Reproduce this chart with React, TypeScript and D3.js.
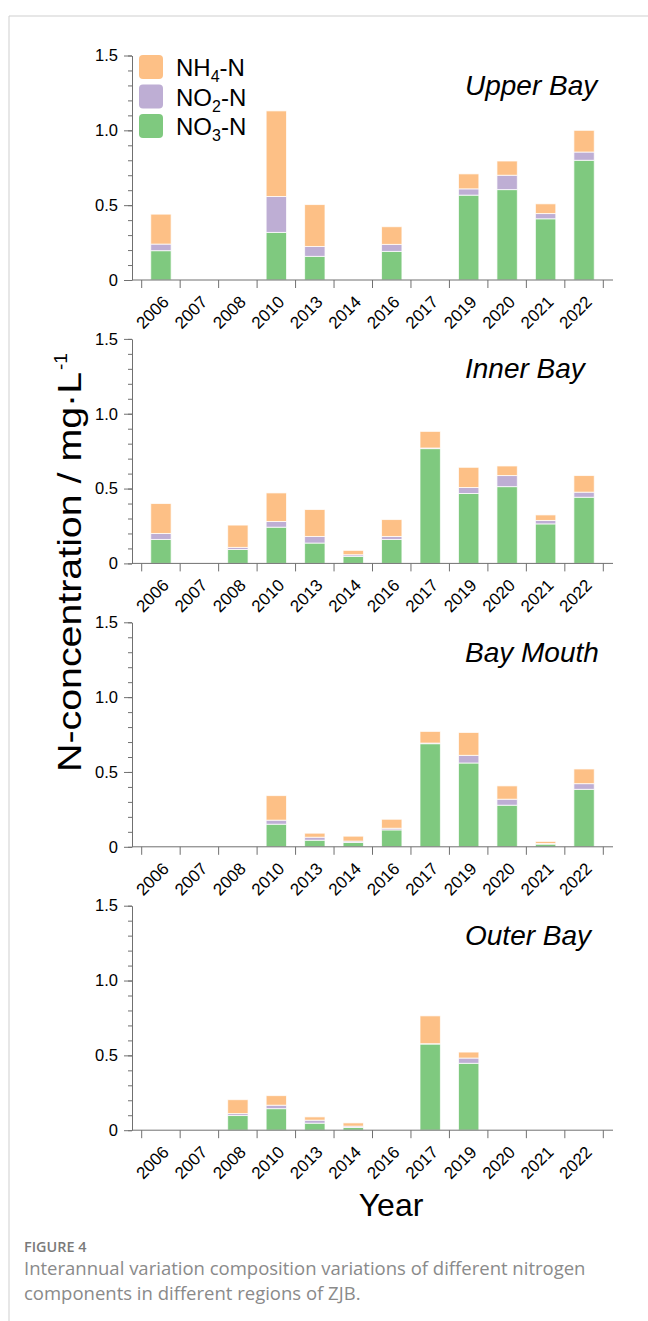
import React, { useRef, useEffect } from 'react';
import * as d3 from 'd3';

// years on the x axis (same for every panel)
const YEARS = ['2006', '2007', '2008', '2010', '2013', '2014', '2016', '2017', '2019', '2020', '2021', '2022'];
const REGIONS = ['Upper Bay', 'Inner Bay', 'Bay Mouth', 'Outer Bay'];
const Y_TICKS = [0, 0.5, 1, 1.5];

// values in mg/L, one entry per year
const UPPER_NO3 = [0.196, 0, 0, 0.318, 0.158, 0, 0.191, 0, 0.567, 0.604, 0.409, 0.8];
const UPPER_NO2 = [0.044, 0, 0, 0.24, 0.066, 0, 0.047, 0, 0.042, 0.096, 0.035, 0.055];
const UPPER_NH4 = [0.2, 0, 0, 0.572, 0.28, 0, 0.118, 0, 0.1, 0.095, 0.065, 0.145];

const INNER_NO3 = [0.16, 0, 0.093, 0.242, 0.136, 0.047, 0.16, 0.767, 0.467, 0.513, 0.264, 0.442];
const INNER_NO2 = [0.04, 0, 0.014, 0.038, 0.044, 0.011, 0.02, 0.004, 0.04, 0.074, 0.023, 0.034];
const INNER_NH4 = [0.2, 0, 0.149, 0.191, 0.18, 0.029, 0.113, 0.111, 0.135, 0.064, 0.037, 0.111];

const MOUTH_NO3 = [0, 0, 0, 0.151, 0.044, 0.029, 0.113, 0.689, 0.56, 0.278, 0.018, 0.384];
const MOUTH_NO2 = [0, 0, 0, 0.027, 0.02, 0.009, 0.011, 0.004, 0.051, 0.04, 0.004, 0.038];
const MOUTH_NH4 = [0, 0, 0, 0.164, 0.027, 0.033, 0.06, 0.078, 0.153, 0.089, 0.014, 0.098];

const OUTER_NO3 = [0, 0, 0.098, 0.144, 0.047, 0.018, 0, 0.576, 0.447, 0, 0, 0];
const OUTER_NO2 = [0, 0, 0.013, 0.023, 0.02, 0.009, 0, 0.002, 0.035, 0, 0, 0];
const OUTER_NH4 = [0, 0, 0.093, 0.064, 0.022, 0.022, 0, 0.186, 0.04, 0, 0, 0];

const SERIES = [
  [UPPER_NO3, UPPER_NO2, UPPER_NH4],
  [INNER_NO3, INNER_NO2, INNER_NH4],
  [MOUTH_NO3, MOUTH_NO2, MOUTH_NH4],
  [OUTER_NO3, OUTER_NO2, OUTER_NH4],
];

const KEYS = ['NO3', 'NO2', 'NH4'];
const COLORS = { NH4: '#fdc086', NO2: '#beaed4', NO3: '#7fc97f' };
const FONT = '"Liberation Sans", Arial, Helvetica, sans-serif';

const W = 648;
const H = 1321;

const App = () => {
  const svgRef = useRef(null);

  useEffect(() => {
    const svg = d3.select(svgRef.current);
    svg.selectAll('*').remove();

    const axisLeft = 132;
    const axisRight = 613;
    const firstTop = 55.5;
    const panelStep = 283.4;
    const plotH = 224.5;
    const axisColor = '#707070';

    // frame
    svg.append('line').attr('x1', 9).attr('x2', W).attr('y1', 16).attr('y2', 16)
      .attr('stroke', '#cfcfcf').attr('stroke-width', 1);
    svg.append('line').attr('x1', 9).attr('x2', 9).attr('y1', 16).attr('y2', H)
      .attr('stroke', '#cfcfcf').attr('stroke-width', 1);

    const x = d3.scaleBand()
      .domain(YEARS)
      .range([141.7, 603.3])
      .paddingInner(0.47)
      .paddingOuter(0.235);

    const stack = d3.stack().keys(KEYS);

    REGIONS.forEach((region, p) => {
      const top = firstTop + p * panelStep;
      const y = d3.scaleLinear().domain([0, 1.5]).range([top + plotH, top]);
      const y0 = y(0);
      const g = svg.append('g');

      const rows = YEARS.map((year, i) => ({
        year,
        NO3: SERIES[p][0][i],
        NO2: SERIES[p][1][i],
        NH4: SERIES[p][2][i],
      }));
      const layers = stack(rows);

      // bars
      layers.forEach(layer => {
        g.append('g')
          .selectAll('rect')
          .data(layer.filter(d => d[1] - d[0] > 0))
          .enter()
          .append('rect')
          .attr('x', d => x(d.data.year))
          .attr('width', x.bandwidth())
          .attr('y', d => y(d[1]))
          .attr('height', d => y(d[0]) - y(d[1]))
          .attr('fill', COLORS[layer.key])
          .attr('stroke', 'rgba(255,255,255,0.75)')
          .attr('stroke-width', 1);
      });

      // y axis: minor ticks
      const minor = g.append('g')
        .attr('transform', `translate(${axisLeft},0)`)
        .call(d3.axisLeft(y).tickValues(d3.range(0, 1.51, 0.1)).tickSize(4).tickFormat(() => ''));
      minor.select('.domain').remove();
      minor.selectAll('line').attr('stroke', axisColor);

      // y axis: major ticks
      const major = g.append('g')
        .attr('transform', `translate(${axisLeft},0)`)
        .call(d3.axisLeft(y).tickValues(Y_TICKS).tickSize(8).tickSizeOuter(0).tickPadding(6)
          .tickFormat(d => (d === 0 ? '0' : d3.format('.1f')(d))));
      major.select('.domain').attr('stroke', axisColor);
      major.selectAll('line').attr('stroke', axisColor);
      major.selectAll('text')
        .attr('font-family', FONT)
        .attr('font-size', 16.5)
        .attr('fill', '#000');

      // x axis line
      g.append('line')
        .attr('x1', axisLeft).attr('x2', axisRight)
        .attr('y1', y0).attr('y2', y0)
        .attr('stroke', axisColor);

      // x ticks at the band edges
      const edges = d3.range(YEARS.length + 1).map(i => x.range()[0] + i * x.step());
      g.append('g')
        .selectAll('line')
        .data(edges)
        .enter()
        .append('line')
        .attr('x1', d => d).attr('x2', d => d)
        .attr('y1', y0).attr('y2', y0 + 8)
        .attr('stroke', axisColor);

      // x tick labels
      g.append('g')
        .selectAll('text')
        .data(YEARS)
        .enter()
        .append('text')
        .attr('transform', d => `translate(${x(d) + x.bandwidth() / 2 + 9},${y0 + 23}) rotate(-45)`)
        .attr('text-anchor', 'end')
        .attr('font-family', FONT)
        .attr('font-size', 17)
        .attr('fill', '#000')
        .text(d => d);

      // region title
      g.append('text')
        .attr('x', 465)
        .attr('y', top + 39.5)
        .attr('font-family', FONT)
        .attr('font-style', 'italic')
        .attr('font-size', 28)
        .attr('fill', '#000')
        .text(region);
    });

    // legend
    const legendItems = [
      { key: 'NH4', sub: '4', ox: 'NH' },
      { key: 'NO2', sub: '2', ox: 'NO' },
      { key: 'NO3', sub: '3', ox: 'NO' },
    ];
    const legend = svg.append('g').attr('transform', 'translate(139,55)');
    legendItems.forEach((item, i) => {
      const row = legend.append('g').attr('transform', `translate(0,${i * 29.5})`);
      row.append('rect')
        .attr('width', 24).attr('height', 24).attr('rx', 4)
        .attr('fill', COLORS[item.key]);
      const t = row.append('text')
        .attr('x', 37).attr('y', 21)
        .attr('font-family', FONT)
        .attr('font-size', 24)
        .attr('fill', '#000');
      t.append('tspan').text(item.ox);
      t.append('tspan').attr('font-size', 16).attr('dy', 6).text(item.sub);
      t.append('tspan').attr('dy', -6).text('-N');
    });

    // y axis title
    const yTitle = svg.append('g').attr('transform', 'translate(81,772) rotate(-90)');
    yTitle.append('text')
      .attr('x', 0).attr('y', 0)
      .attr('font-family', FONT)
      .attr('font-size', 34)
      .attr('textLength', 400)
      .attr('lengthAdjust', 'spacingAndGlyphs')
      .attr('fill', '#000')
      .text('N-concentration / mg·L');
    yTitle.append('text')
      .attr('x', 402).attr('y', -14)
      .attr('font-family', FONT)
      .attr('font-size', 19)
      .attr('fill', '#000')
      .text('-1');

    // x axis title
    svg.append('text')
      .attr('x', 391).attr('y', 1216)
      .attr('text-anchor', 'middle')
      .attr('font-family', FONT)
      .attr('font-size', 32)
      .attr('fill', '#000')
      .text('Year');

    // caption
    svg.append('text')
      .attr('x', 24).attr('y', 1252)
      .attr('font-family', '"Open Sans", sans-serif')
      .attr('font-size', 14.4)
      .attr('font-weight', 600)
      .attr('fill', '#7a7a7a')
      .text('FIGURE 4');
    const caption = svg.append('text')
      .attr('font-family', '"Open Sans", sans-serif')
      .attr('font-size', 18.5)
      .attr('fill', '#8a8a8a');
    caption.append('tspan').attr('x', 24).attr('y', 1275)
      .text('Interannual variation composition variations of different nitrogen');
    caption.append('tspan').attr('x', 24).attr('y', 1300)
      .text('components in different regions of ZJB.');
  }, []);

  return (
    <svg
      ref={svgRef}
      width={W}
      height={H}
      style={{ position: 'absolute', left: 0, top: 0, background: '#fff' }}
    />
  );
};

export default App;
